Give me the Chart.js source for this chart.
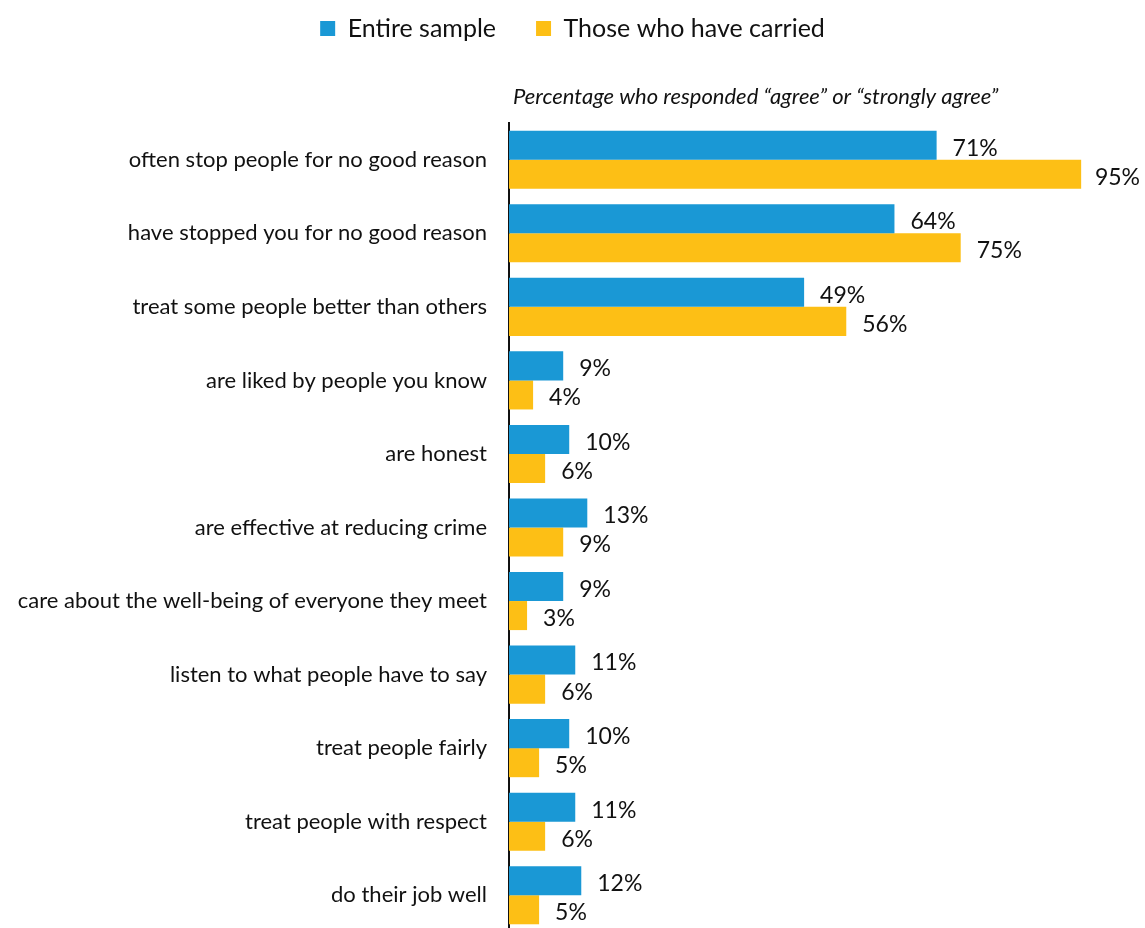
<!DOCTYPE html>
<html lang="en">
<head>
    <meta charset="utf-8">
    <title>Agreement chart</title>
    <script src="https://cdn.jsdelivr.net/npm/chart.js"></script>
    <style>
        html, body { margin: 0; padding: 0; background: #fff; overflow: hidden; }
        canvas { display: block; }
    </style>
</head>
<body>
    <canvas id="chart" width="1145" height="932"></canvas>
    <script>
        const categories = [
            'often stop people for no good reason',
            'have stopped you for no good reason',
            'treat some people better than others',
            'are liked by people you know',
            'are honest',
            'are effective at reducing crime',
            'care about the well-being of everyone they meet',
            'listen to what people have to say',
            'treat people fairly',
            'treat people with respect',
            'do their job well'
        ];
        const entireSample = [71, 64, 49, 9, 10, 13, 9, 11, 10, 11, 12];
        const carried = [95, 75, 56, 4, 6, 9, 3, 6, 5, 6, 5];

        const FONT = 'Lato, "DejaVu Sans", sans-serif';

        // leave room under the legend for the subtitle
        const legendGap = {
            id: 'legendGap',
            beforeInit(chart) {
                const fit = chart.legend.fit;
                chart.legend.fit = function () {
                    fit.bind(chart.legend)();
                    this.height += 72;
                };
            }
        };

        // subtitle above the plot + value labels at the bar ends
        const extras = {
            id: 'extras',
            afterDatasetsDraw(chart) {
                const ctx = chart.ctx;
                const area = chart.chartArea;
                ctx.save();
                ctx.fillStyle = '#111';
                ctx.font = 'italic 22px ' + FONT;
                ctx.textAlign = 'left';
                ctx.textBaseline = 'middle';
                ctx.fillText('Percentage who responded \u201cagree\u201d or \u201cstrongly agree\u201d', area.left + 4, area.top - 26);

                ctx.font = '23px ' + FONT;
                chart.data.datasets.forEach((ds, i) => {
                    chart.getDatasetMeta(i).data.forEach((bar, j) => {
                        const txt = ds.data[j] + '%';
                        const w = ctx.measureText(txt).width;
                        const x = Math.min(bar.x + 16, chart.width - w - 5);
                        ctx.fillText(txt, x, bar.y + 3);
                    });
                });
                ctx.restore();
            }
        };

        new Chart(document.getElementById('chart'), {
            type: 'bar',
            data: {
                labels: categories,
                datasets: [{
                    label: 'Entire sample',
                    data: entireSample,
                    backgroundColor: '#1a98d5',
                    borderWidth: 0
                }, {
                    label: 'Those who have carried',
                    data: carried,
                    backgroundColor: '#fdbf15',
                    borderWidth: 0
                }]
            },
            options: {
                indexAxis: 'y',
                responsive: false,
                animation: false,
                categoryPercentage: 0.79,
                barPercentage: 1,
                layout: { padding: { top: -24, right: 0, bottom: 0, left: 0 } },
                plugins: {
                    legend: {
                        position: 'top',
                        labels: {
                            boxWidth: 15,
                            boxHeight: 15,
                            padding: 40,
                            color: '#111',
                            font: { family: FONT, size: 25 }
                        }
                    },
                    tooltip: { enabled: false }
                },
                scales: {
                    x: {
                        min: 0,
                        max: 105.6,
                        display: false
                    },
                    y: {
                        afterFit(scale) {
                            scale.width = 509;
                            scale.paddingTop = 0;
                            scale.paddingBottom = 0;
                        },
                        grid: { display: false, drawTicks: false },
                        border: { display: true, color: '#111', width: 2 },
                        ticks: {
                            padding: 22,
                            color: '#111',
                            font: { family: FONT, size: 22 }
                        }
                    }
                }
            },
            plugins: [legendGap, extras]
        });
    </script>
</body>
</html>
